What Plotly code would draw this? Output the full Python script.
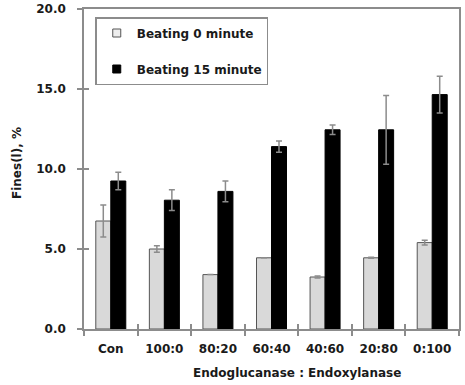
import plotly.graph_objects as go

categories = ["Con", "100:0", "80:20", "60:40", "40:60", "20:80", "0:100"]
beat0 = [6.75, 5.0, 3.4, 4.45, 3.25, 4.45, 5.4]
beat0_err = [1.0, 0.2, 0.0, 0.0, 0.07, 0.03, 0.15]
beat15 = [9.25, 8.05, 8.6, 11.4, 12.45, 12.45, 14.65]
beat15_err = [0.55, 0.65, 0.65, 0.35, 0.3, 2.15, 1.15]
yticks = [0, 5, 10, 15, 20]
yticklabels = ["0.0", "5.0", "10.0", "15.0", "20.0"]
series_names = ["Beating 0 minute", "Beating 15 minute"]

FONT = "DejaVu Sans, Arial, sans-serif"
AX = "#8c8c8c"
TXT = "#1a1a1a"
FS = 12

fig = go.Figure()
fig.add_trace(go.Bar(
    x=categories, y=beat0, name=series_names[0], showlegend=False,
    marker=dict(color="#d9d9d9", line=dict(color="#555555", width=1)),
    error_y=dict(type="data", array=beat0_err, color=AX, thickness=1.5, width=3),
))
fig.add_trace(go.Bar(
    x=categories, y=beat15, name=series_names[1], showlegend=False,
    marker=dict(color="#000000", line=dict(color="#000000", width=1)),
    error_y=dict(type="data", array=beat15_err, color=AX, thickness=1.5, width=3),
))
# legend-only entries with small square keys
fig.add_trace(go.Scatter(
    x=[None], y=[None], mode="markers", name="<b>" + series_names[0] + "</b>",
    marker=dict(symbol="square", size=8, color="#eeeeee", line=dict(color="#555555", width=1)),
    legendgroup="a",
))
fig.add_trace(go.Scatter(
    x=[None], y=[None], mode="markers", name="<b>" + series_names[1] + "</b>",
    marker=dict(symbol="square", size=8, color="#000000", line=dict(color="#000000", width=1)),
    legendgroup="b",
))
# invisible helper trace for the inner half of crossing ticks
fig.add_trace(go.Scatter(x=categories, y=beat15, xaxis="x2", yaxis="y2",
                         mode="markers", marker=dict(opacity=0), showlegend=False,
                         hoverinfo="skip"))

fig.update_layout(
    width=465, height=385,
    margin=dict(l=84, r=6, t=9, b=56),
    paper_bgcolor="white", plot_bgcolor="white",
    barmode="group", bargap=0.44, bargroupgap=0,
    font=dict(family=FONT, size=FS, color=TXT),
    showlegend=True,
    legend=dict(
        x=0.03, y=0.975, xanchor="left", yanchor="top",
        bgcolor="white", bordercolor=AX, borderwidth=1.5,
        font=dict(family=FONT, size=FS, color=TXT),
        traceorder="grouped", tracegroupgap=17,
        itemwidth=30,
    ),
    xaxis=dict(
        type="category", categoryorder="array", categoryarray=categories,
        showline=True, linecolor=AX, linewidth=1.5, mirror=True,
        ticks="outside", ticklen=5, tickcolor=AX, tickwidth=1.5,
        tickson="boundaries", automargin=False, ticklabelstandoff=8,
        tickfont=dict(family=FONT, size=FS, color=TXT, weight="bold"),
        showgrid=False, zeroline=False,
    ),
    yaxis=dict(
        range=[0, 20], tickvals=yticks, ticktext=yticklabels,
        showline=True, linecolor=AX, linewidth=1.5, mirror=True,
        ticks="outside", ticklen=5, tickcolor=AX, tickwidth=1.5,
        ticklabelstandoff=9, automargin=False,
        tickfont=dict(family=FONT, size=FS, color=TXT, weight="bold"),
        showgrid=False, zeroline=False,
    ),
    xaxis2=dict(
        type="category", categoryorder="array", categoryarray=categories,
        overlaying="x", matches="x", showline=False, automargin=False,
        ticks="inside", ticklen=5, tickcolor=AX, tickwidth=1.5,
        tickson="boundaries", showticklabels=False, showgrid=False, zeroline=False,
    ),
    yaxis2=dict(
        range=[0, 20], tickvals=yticks, overlaying="y", side="left",
        showline=False, ticks="inside", ticklen=5, tickcolor=AX, tickwidth=1.5,
        showticklabels=False, showgrid=False, zeroline=False, automargin=False,
    ),
    annotations=[
        dict(text="<b>Endoglucanase : Endoxylanase</b>", xref="paper", yref="paper",
             x=(297 - 84) / 375, y=-(373 - 329) / 320, xanchor="center", yanchor="middle",
             showarrow=False, font=dict(family=FONT, size=FS, color=TXT)),
        dict(text="<b>Fines(l), %</b>", xref="paper", yref="paper",
             x=-(84 - 17) / 375, y=(329 - 163) / 320, xanchor="center", yanchor="middle",
             textangle=-90, showarrow=False,
             font=dict(family=FONT, size=FS, color=TXT)),
    ],
)

fig.write_html("out.html",
               config={"displayModeBar": False},
               post_script="document.body.style.margin='0';document.body.style.padding='0';")
